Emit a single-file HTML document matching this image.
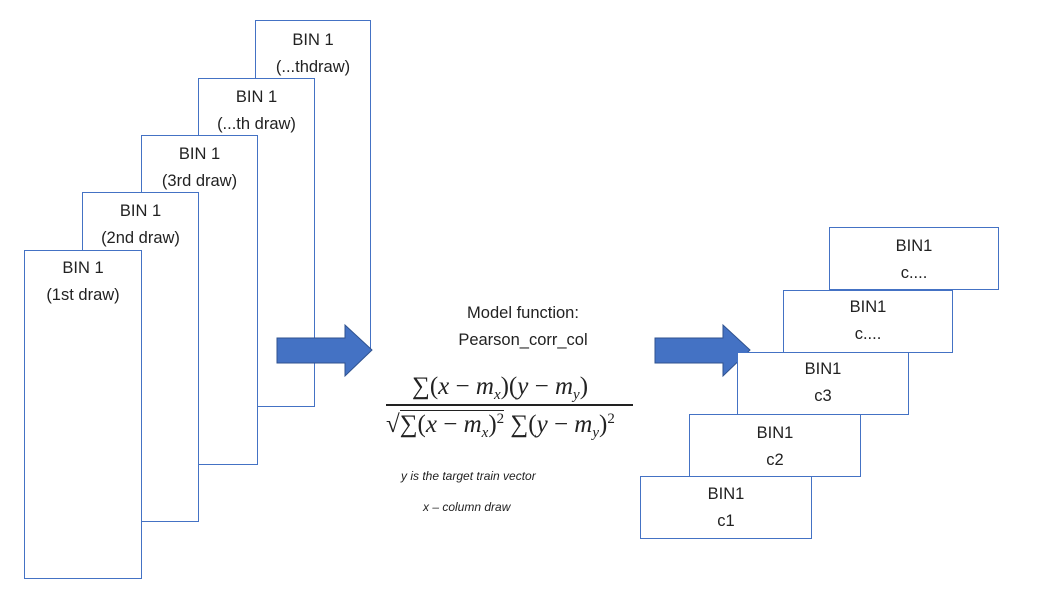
<!DOCTYPE html>
<html><head><meta charset="utf-8"><style>
body{margin:0;width:1057px;height:602px;background:#fff;position:relative;overflow:hidden;font-family:"Liberation Sans",sans-serif;color:#222}
.b{position:absolute;box-sizing:border-box;border:1.3px solid #4472C4;background:#fff;text-align:center;font-size:16.5px;line-height:27px}
.t{position:absolute;white-space:nowrap}
.m{font-family:"Liberation Serif","DejaVu Serif",serif;font-size:25px;position:absolute;white-space:nowrap;line-height:30px}
.m i{font-style:italic}
.m sub{font-size:15px;font-style:italic;vertical-align:-5px;line-height:0}
.m sup{font-size:15px;vertical-align:9px;line-height:0}
</style></head><body>
<div class="b" style="left:255px;top:20px;width:116px;height:330px;padding-top:6px">BIN 1<br>(...thdraw)</div>
<div class="b" style="left:198px;top:78px;width:117px;height:329px;padding-top:5px">BIN 1<br>(...th draw)</div>
<div class="b" style="left:141px;top:135px;width:117px;height:330px;padding-top:5px">BIN 1<br>(3rd draw)</div>
<div class="b" style="left:82px;top:192px;width:117px;height:330px;padding-top:5px">BIN 1<br>(2nd draw)</div>
<div class="b" style="left:24px;top:250px;width:118px;height:329px;padding-top:4px">BIN 1<br>(1st draw)</div>

<svg style="position:absolute;left:0;top:0" width="1057" height="602">
<polygon points="277,338 345,338 345,325 372,350 345,376 345,363 277,363" fill="#4472C4" stroke="#2F528F" stroke-width="1"/>
<polygon points="655,338 723,338 723,325 750,350 723,376 723,363 655,363" fill="#4472C4" stroke="#2F528F" stroke-width="1"/>
</svg>

<div class="t" style="left:423px;top:300px;width:200px;text-align:center;font-size:16.5px;line-height:27px">Model function:<br>Pearson_corr_col</div>

<div>
<div class="m" style="left:412px;top:372px">∑(<i>x</i> − <i>m</i><sub>x</sub>)(<i>y</i> − <i>m</i><sub>y</sub>)</div>
<div style="position:absolute;left:386px;top:404px;width:247px;height:1.5px;background:#222"></div>
<div class="m" style="left:386px;top:410px">√<span style="border-top:1.3px solid #222">∑(<i>x</i> − <i>m</i><sub>x</sub>)<sup>2</sup></span> ∑(<i>y</i> − <i>m</i><sub>y</sub>)<sup>2</sup></div>
</div>
<div class="t" style="left:401px;top:469px;font-size:12px;font-style:italic">y is the target train vector</div>
<div class="t" style="left:423px;top:500px;font-size:12px;font-style:italic">x – column draw</div>

<div class="b" style="left:829px;top:227px;width:170px;height:63px;padding-top:5px">BIN1<br>c....</div>
<div class="b" style="left:783px;top:290px;width:170px;height:63px;padding-top:3px">BIN1<br>c....</div>
<div class="b" style="left:737px;top:352px;width:172px;height:63px;padding-top:3px">BIN1<br>c3</div>
<div class="b" style="left:689px;top:414px;width:172px;height:63px;padding-top:5px">BIN1<br>c2</div>
<div class="b" style="left:640px;top:476px;width:172px;height:63px;padding-top:4px">BIN1<br>c1</div>
</body></html>
